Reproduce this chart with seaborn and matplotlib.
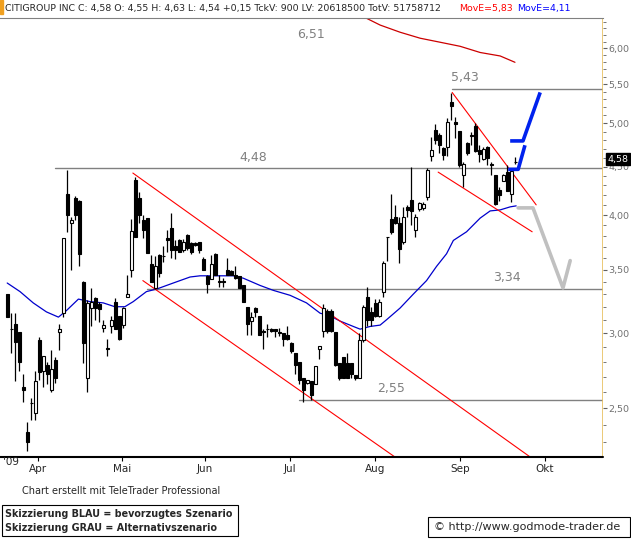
import numpy as np
import matplotlib
matplotlib.use("Agg")
import matplotlib.pyplot as plt
import matplotlib.ticker as mticker
import seaborn as sns

# daily OHLC (in cents)
opens = [330,303,307,301,263,236,253,247,295,274,278,261,281,301,315,421,392,417,414,340,269,319,327,322,304,289,305,324,313,306,328,350,436,417,395,397,355,335,363,362,378,388,371,376,367,381,374,374,375,359,345,342,364,340,340,350,349,346,345,337,320,309,319,313,301,303,303,303,301,300,299,293,286,280,269,266,267,265,289,302,317,317,301,279,283,279,279,271,269,295,328,316,323,313,332,379,396,398,392,375,408,415,386,406,407,418,462,492,486,471,472,526,501,491,441,477,485,497,469,458,472,452,441,425,435,444,421,455]
highs = [330,315,315,301,272,242,256,274,297,284,280,288,283,307,378,446,398,419,415,341,325,335,328,324,310,296,313,327,313,320,346,396,439,423,400,397,363,362,364,371,386,402,376,377,377,382,375,375,375,361,346,363,365,346,343,360,350,353,345,337,320,316,320,313,303,307,304,303,304,300,305,294,286,280,269,268,267,277,291,322,318,318,301,279,283,286,279,271,300,321,336,320,326,326,358,379,421,410,398,408,410,450,401,413,413,449,484,499,488,472,506,538,508,491,455,478,489,500,474,472,473,455,441,428,442,452,448,461]
lows = [312,286,267,274,254,225,243,243,268,263,265,260,266,288,312,384,350,395,353,279,260,305,310,308,301,284,300,303,295,304,328,344,379,392,378,365,340,334,344,357,366,360,359,366,366,367,364,371,365,350,331,342,346,336,336,346,346,342,335,324,299,299,312,299,289,297,301,297,298,291,295,286,272,265,254,265,255,265,282,297,300,301,277,268,269,269,269,268,269,294,305,305,312,312,328,358,382,391,356,373,398,390,379,404,405,415,456,475,465,457,462,504,483,450,428,463,474,466,455,457,452,441,410,414,434,424,413,453]
closes = [312,303,294,280,261,230,253,267,273,284,272,275,269,303,378,400,395,400,364,293,323,324,319,318,306,289,310,303,296,319,330,385,379,400,386,365,340,353,347,362,376,367,367,366,375,369,366,372,367,350,338,355,346,340,340,346,346,343,335,324,307,312,316,299,301,303,302,302,300,296,296,287,278,268,261,268,258,277,291,319,302,302,278,269,269,269,272,269,295,320,310,310,313,324,356,379,384,392,368,398,405,404,398,412,411,446,468,480,474,463,502,521,499,452,453,465,485,467,464,470,460,452,411,420,441,424,445,455]

# moving averages (blue = short, red = long): candle index -> price
ma_short_x = [0.0,3.2,6.5,9.8,12.8,14.8,17.8,20.7,24.0,26.9,29.4,31.5,34.8,37.3,41.5,45.7,48.2,52.3,56.5,59.0,63.2,66.5,70.7,74.8,78.2,80.7,83.2,86.5,88.2,90.7,93.2,94.8,98.2,101.5,104.8,107.3,109.8,111.5,114.8,118.2,120.7,123.2,125.7,127.2]
ma_short_y = [3.39,3.32,3.23,3.16,3.12,3.17,3.26,3.24,3.23,3.20,3.20,3.24,3.32,3.34,3.39,3.44,3.45,3.45,3.45,3.43,3.37,3.33,3.29,3.23,3.15,3.13,3.09,3.05,3.03,3.05,3.06,3.10,3.19,3.30,3.41,3.53,3.64,3.76,3.84,3.97,4.04,4.05,4.08,4.09]
ma_long_x = [88.7,93.2,98.2,103.2,108.2,113.2,118.2,123.2,126.9]
ma_long_y = [6.49,6.35,6.24,6.15,6.09,6.03,5.94,5.89,5.80]

# horizontal levels: (start index, price, label, label index)
levels = [(111.2, 5.43, "5,43", 114.5), (11.9, 4.48, "4,48", 61.5), (34.9, 3.34, "3,34", 125.0), (73.0, 2.55, "2,55", 96.0)]
peak_label = ("6,51", 76.0, 6.15)

# trend channels
trend_lines = [((31.4, 4.43), (130.7, 2.22)), ((33.9, 3.41), (96.9, 2.22)),
               ((111.2, 5.39), (132.2, 4.10)), ((107.7, 4.44), (131.2, 3.84))]

# scenario sketches
blue_a = ([125.2, 127.7, 129.4], [4.47, 4.47, 4.74])
blue_b = ([125.7, 128.9, 133.2], [4.79, 4.79, 5.39])
gray_s = ([127.7, 131.4, 138.9, 140.7], [4.07, 4.07, 3.35, 3.58])

month_pos = [7.7, 28.7, 49.4, 70.7, 91.9, 113.2, 134.4]
month_lab = ["Apr", "Mai", "Jun", "Jul", "Aug", "Sep", "Okt"]
price_ticks = [2.5, 3.0, 3.5, 4.0, 4.5, 5.0, 5.5, 6.0]

sns.set_style("white")
plt.rcParams["font.family"] = ["DejaVu Sans"]

fig = plt.figure(figsize=(6.31, 5.39), dpi=100)
W, H = 631, 539
ax = fig.add_axes([0, (H - 457) / H, 603 / W, (457 - 18) / H])
ax.set_yscale("log")
ax.set_xlim(-1.8, 148.9)
ax.set_ylim(2.22, 6.46)

o = np.array(opens) / 100; h = np.array(highs) / 100
l = np.array(lows) / 100; c = np.array(closes) / 100
idx = np.arange(len(o))
ax.vlines(idx, l, h, color="black", lw=0.9, zorder=3)
bot = np.minimum(o, c); top = np.maximum(o, c)
colors = ["white" if cc > oo else "black" for oo, cc in zip(o, c)]
ax.bar(idx, np.maximum(top - bot, 0.004), bottom=bot, width=0.7, color=colors,
       edgecolor="black", linewidth=0.8, zorder=4)

sns.lineplot(x=ma_short_x, y=ma_short_y, ax=ax, color="#0000cc", lw=0.9, zorder=2)
sns.lineplot(x=ma_long_x, y=ma_long_y, ax=ax, color="#cc0000", lw=0.9, zorder=2)

for (x0, y0), (x1, y1) in trend_lines:
    ax.plot([x0, x1], [y0, y1], color="red", lw=0.8, zorder=2)

for x0, y, lab, lx in levels:
    ax.plot([x0, 148.9], [y, y], color="#808080", lw=1.0, zorder=1)
    ax.text(lx, y * 1.012, lab, color="#808080", fontsize=9, ha="center", va="bottom")
ax.text(peak_label[1], peak_label[2], peak_label[0], color="#808080", fontsize=9, ha="center")

ax.plot(*blue_a, color="#0022ee", lw=2.6, zorder=5, solid_capstyle="butt")
ax.plot(*blue_b, color="#0022ee", lw=2.6, zorder=5, solid_capstyle="butt")
ax.plot(*gray_s, color="#c0c0c0", lw=2.6, zorder=5)

# axes styling
for s in ["left", "right", "bottom"]:
    ax.spines[s].set_visible(False)
ax.spines["top"].set_color("#808080")
ax.axvline(148.9, color="#e8c060", lw=1.2)
ax.axhline(2.22, color="black", lw=1.5, clip_on=False)
ax.yaxis.tick_right()
ax.yaxis.set_major_locator(mticker.FixedLocator(price_ticks))
ax.yaxis.set_minor_locator(mticker.FixedLocator(np.arange(2.3, 6.45, 0.1)))
ax.yaxis.set_major_formatter(mticker.FuncFormatter(lambda v, _: f"{v:.2f}".replace(".", ",")))
ax.yaxis.set_minor_formatter(mticker.NullFormatter())
ax.tick_params(axis="y", which="major", right=True, direction="out", length=3,
               labelsize=6.8, labelcolor="#707070", color="#606060", pad=1)
ax.tick_params(axis="y", which="minor", right=True, direction="out", length=2, color="#606060")
ax.set_xticks(month_pos)
ax.set_xticklabels(month_lab)
ax.tick_params(axis="x", bottom=True, direction="out", length=3, labelsize=7.5, pad=2, color="black")
ax.text(-1.0, 2.22, "'09", fontsize=7.5, va="top", ha="left", transform=ax.transData)

# last price box
ax.text(150.0, 4.58, "4,58", fontsize=6.8, color="white", va="center", ha="left", clip_on=False,
        bbox=dict(boxstyle="square,pad=0.15", fc="black", ec="black"))

# header
fig.patches.append(plt.Rectangle((0, 1 - 14 / H), 3 / W, 14 / H, transform=fig.transFigure, color="#f0a020"))
fig.text(5 / W, 1 - 9 / H, "CITIGROUP INC C: 4,58 O: 4,55 H: 4,63 L: 4,54 +0,15 TckV: 900 LV: 20618500 TotV: 51758712",
         fontsize=6.75, va="center", ha="left")
fig.text(459 / W, 1 - 9 / H, "MovE=5,83", fontsize=6.75, va="center", color="red")
fig.text(517 / W, 1 - 9 / H, "MovE=4,11", fontsize=6.75, va="center", color="blue")

# footer
fig.text(22 / W, 1 - 491 / H, "Chart erstellt mit TeleTrader Professional", fontsize=7, va="center")
fig.text(5 / W, 1 - 514 / H, "Skizzierung BLAU = bevorzugtes Szenario", fontsize=6.9, weight="bold", va="center")
fig.text(5 / W, 1 - 528 / H, "Skizzierung GRAU = Alternativszenario", fontsize=6.9, weight="bold", va="center")
fig.patches.append(plt.Rectangle((2 / W, 1 - 536 / H), 236 / W, 31 / H, transform=fig.transFigure,
                                 fill=False, ec="black", lw=0.8))
fig.text(434 / W, 1 - 527 / H, "© http://www.godmode-trader.de", fontsize=8, va="center")
fig.patches.append(plt.Rectangle((428 / W, 1 - 537 / H), 202 / W, 20 / H, transform=fig.transFigure,
                                 fill=False, ec="black", lw=0.8))

fig.savefig("out.png", dpi=100)
